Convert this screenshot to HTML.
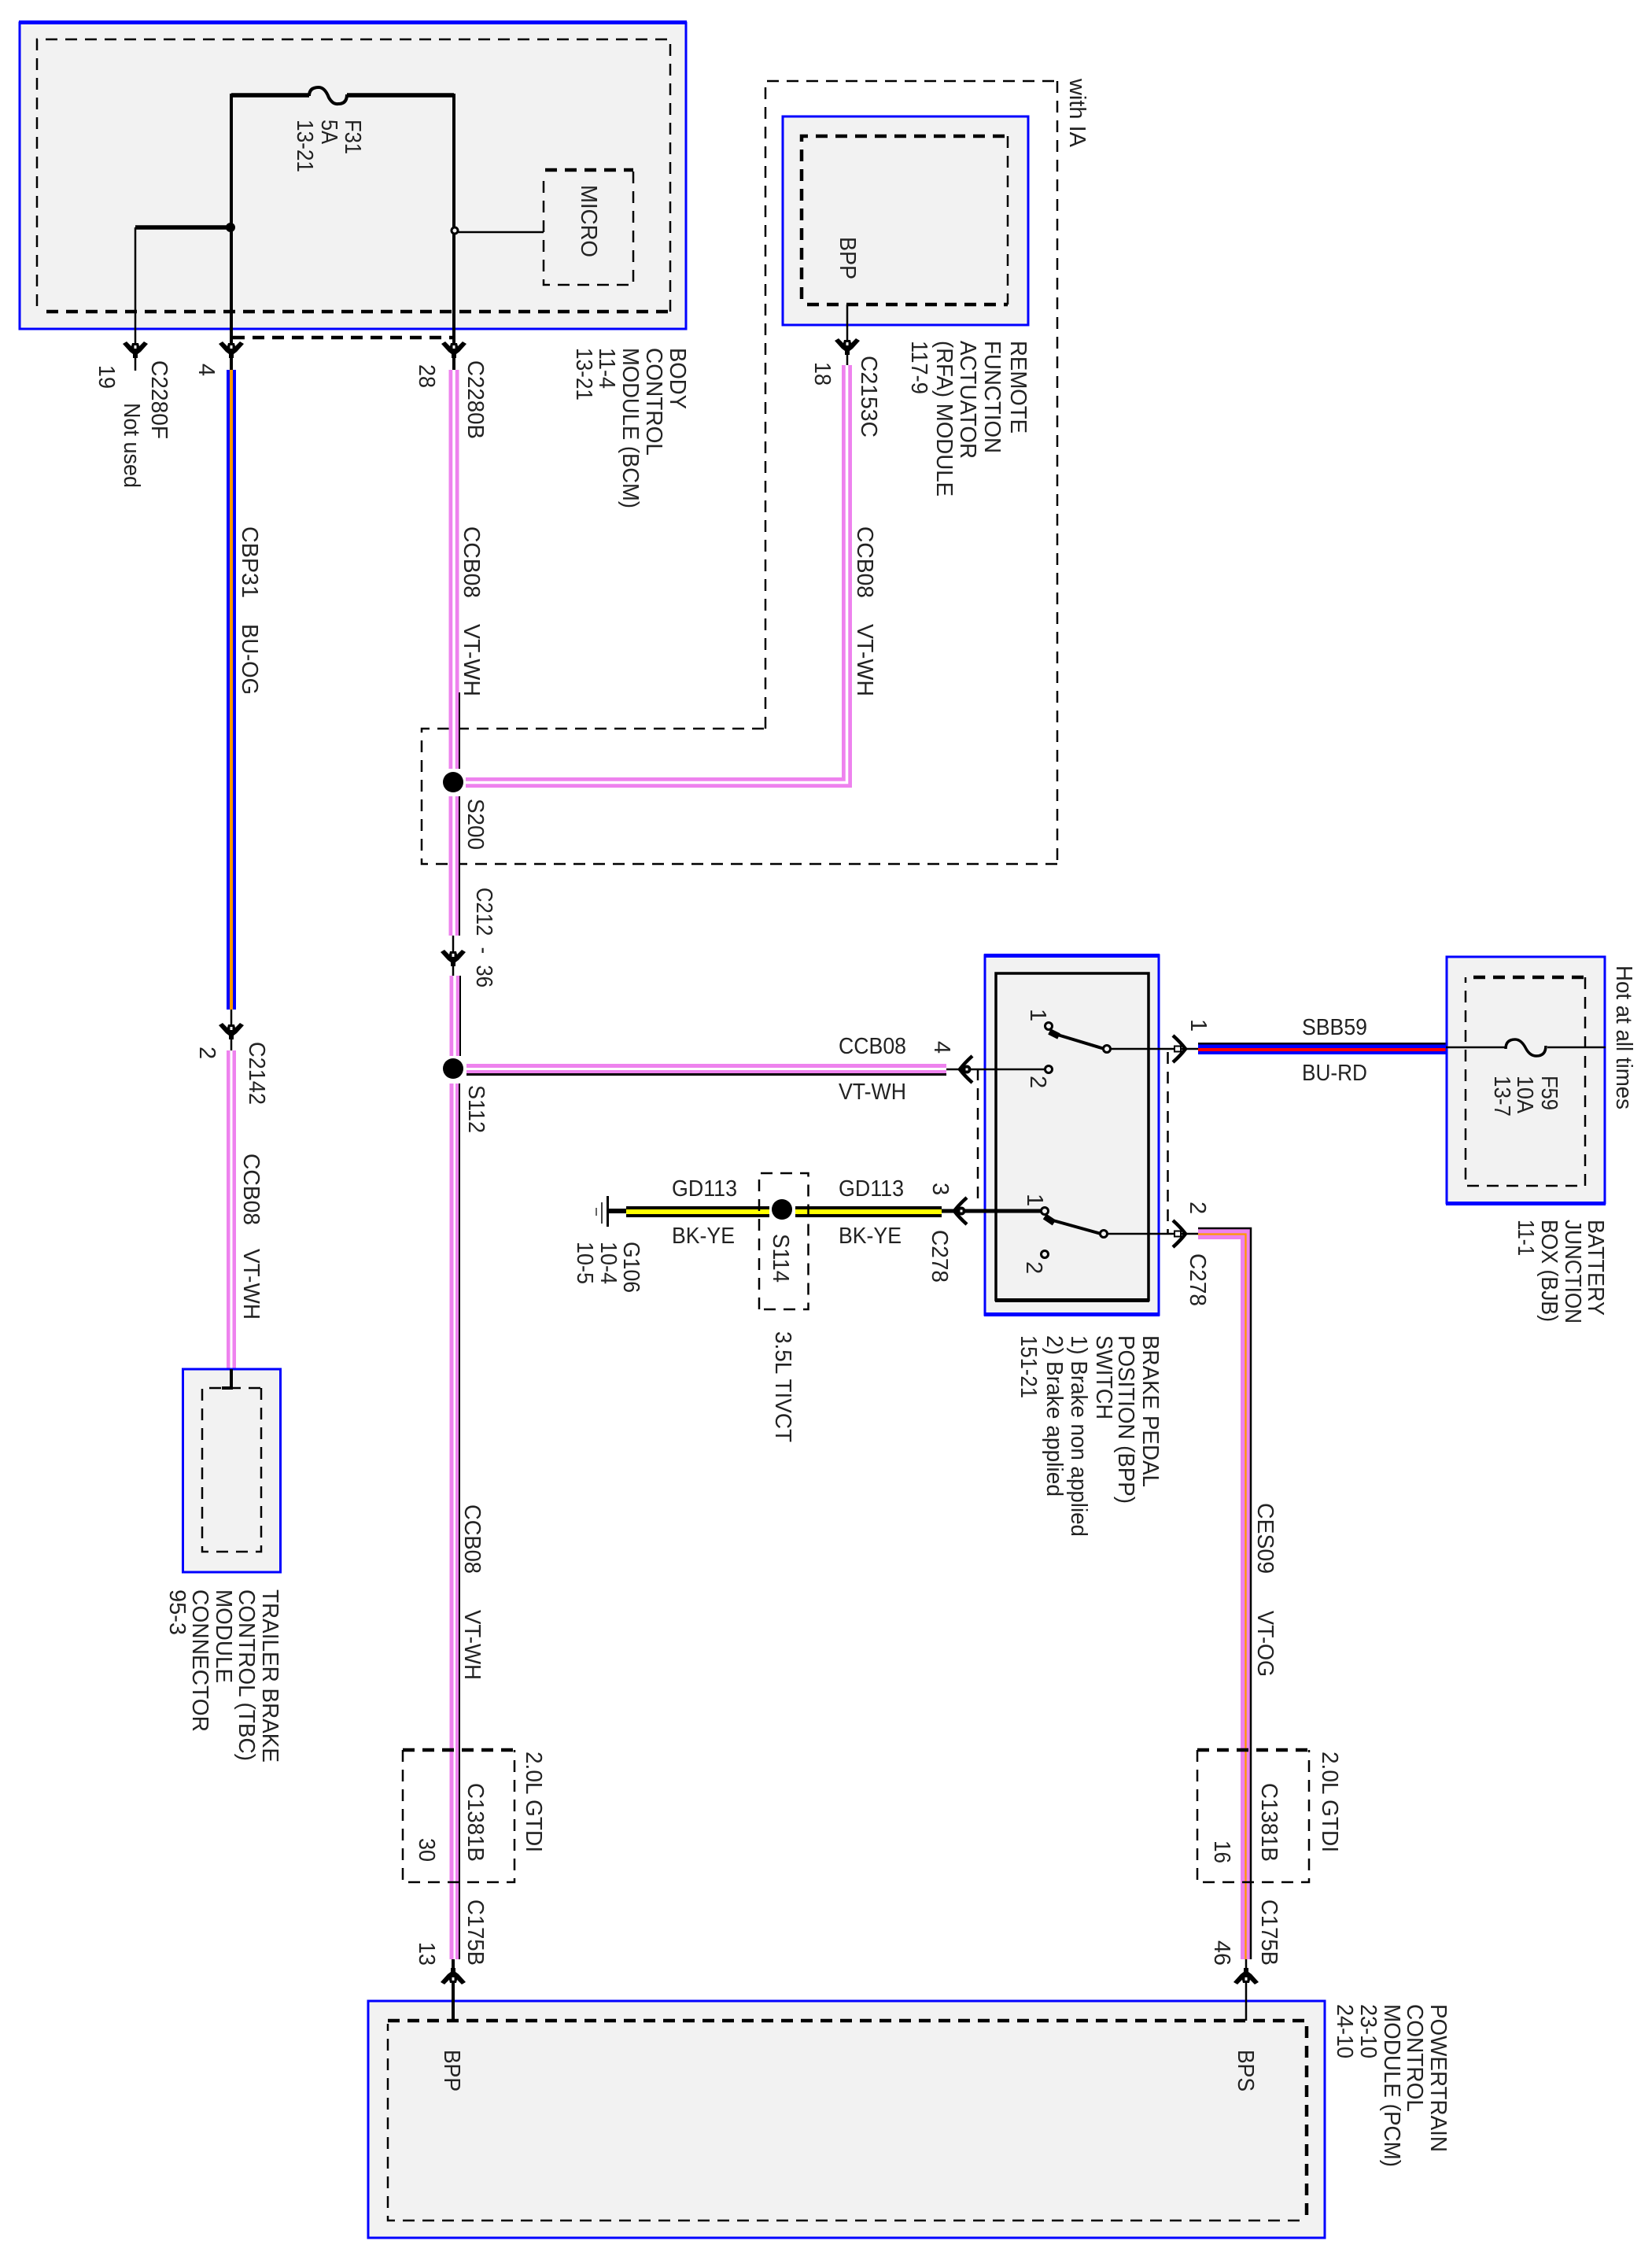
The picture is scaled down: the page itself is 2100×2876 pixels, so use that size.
<!DOCTYPE html>
<html><head><meta charset="utf-8"><style>
html,body{margin:0;padding:0;background:#fff}
svg{display:block}
text{font-family:"Liberation Sans",sans-serif;font-size:29px;fill:#222}
.b{fill:#f2f2f2;stroke:#0000ff;stroke-width:3}
.d{fill:none;stroke:#000;stroke-width:2.5;stroke-dasharray:15 10}
.t{fill:none;stroke:#000;stroke-width:4.5;stroke-dasharray:15 10}
.l{fill:none;stroke:#000;stroke-width:2.5}
.k{fill:none;stroke:#000;stroke-width:4}
.o{fill:#f2f2f2;stroke:#000;stroke-width:3}
.p{fill:none;stroke:#ee82ee;stroke-width:13}
.w{fill:none;stroke:#fff;stroke-width:3.5}
</style></head><body>
<svg xmlns="http://www.w3.org/2000/svg" width="2100" height="2876" viewBox="0 0 2100 2876">
<defs>
<g id="c"><path d="M-16-6L-11-9L-5-3L-4-7H4L5-3L11-9L16-6L7 4L3 7V12H-3V7L-7 4Z" fill="#000"/><rect x="-1.5" y="-4" width="3" height="4" fill="#fff"/></g>
<g id="s"><path d="M-17-7Q-8 3 0 9Q8 3 17-7" fill="none" stroke="#000" stroke-width="4.5"/><rect x="-3.5" y="-5" width="7" height="8" fill="#fff" stroke="#000" stroke-width="2"/></g>
<g id="f"><path d="M-17-7Q-8 3 0 9Q8 3 17-7" fill="none" stroke="#000" stroke-width="4.5"/><circle cx="0" cy="0" r="5.5" fill="#000"/><rect x="-1.5" y="-1.5" width="3" height="3" fill="#fff"/></g>
</defs>

<!-- BCM -->
<rect class="b" x="25" y="29" width="847" height="389"/>
<rect x="24" y="26" width="849" height="5" fill="#00f"/>
<path class="d" d="M852 396V50H47V396"/>
<path class="t" d="M59 396H852"/>
<path class="k" d="M393 121H294V470M441 121H577V470"/>
<path d="M294 121H393M441 121H577" stroke="#000" stroke-width="5.5" fill="none"/>
<path d="M393 122Q393 111 405 111Q413 111 418 124Q423 133 430 132Q441 132 441 120" fill="none" stroke="#000" stroke-width="4"/>
<path d="M294 289H172" stroke="#000" stroke-width="5.5"/>
<path class="l" d="M172 289V471" stroke-width="3"/>
<ellipse cx="293" cy="289" rx="6" ry="6" fill="#000"/>
<circle class="o" cx="578" cy="293" r="4"/>
<path class="l" d="M582 295H691"/>
<path class="d" d="M805 218V362H691V220" stroke-width="2"/>
<path class="t" d="M693 216H805" stroke-dasharray="13 9"/>
<path class="t" d="M296 429H577"/>
<use href="#c" x="172" y="443"/><use href="#c" x="294" y="443"/><use href="#c" x="577" y="443"/>

<text lengthAdjust="spacingAndGlyphs" transform="translate(439 152) rotate(90)" textLength="44">F31</text>
<text lengthAdjust="spacingAndGlyphs" transform="translate(409 152) rotate(90)" textLength="31">5A</text>
<text lengthAdjust="spacingAndGlyphs" transform="translate(378 152) rotate(90)" textLength="67">13-21</text>
<text lengthAdjust="spacingAndGlyphs" transform="translate(739 235) rotate(90)" textLength="92">MICRO</text>
<text lengthAdjust="spacingAndGlyphs" transform="translate(193 458) rotate(90)" textLength="100">C2280F</text>
<text lengthAdjust="spacingAndGlyphs" transform="translate(158 512) rotate(90)" textLength="108">Not used</text>
<text lengthAdjust="spacingAndGlyphs" transform="translate(126 464) rotate(90)" textLength="30">19</text>
<text transform="translate(253 462) rotate(90)">4</text>
<text lengthAdjust="spacingAndGlyphs" transform="translate(533 463) rotate(90)" textLength="30">28</text>
<text lengthAdjust="spacingAndGlyphs" transform="translate(595 458) rotate(90)" textLength="100">C2280B</text>
<text lengthAdjust="spacingAndGlyphs" transform="translate(852 442) rotate(90)" textLength="78">BODY</text>
<text lengthAdjust="spacingAndGlyphs" transform="translate(822 442) rotate(90)" textLength="137">CONTROL</text>
<text lengthAdjust="spacingAndGlyphs" transform="translate(792 442) rotate(90)" textLength="204">MODULE (BCM)</text>
<text lengthAdjust="spacingAndGlyphs" transform="translate(762 442) rotate(90)" textLength="52">11-4</text>
<text lengthAdjust="spacingAndGlyphs" transform="translate(733 442) rotate(90)" textLength="67">13-21</text>

<!-- IA dashed -->
<path class="d" d="M973 926V103H1344" />
<path class="d" stroke-width="3" d="M1344 103V1098"/>
<path class="d" d="M1344 1098H536V926H973"/>
<text lengthAdjust="spacingAndGlyphs" transform="translate(1360 100) rotate(90)" textLength="87">with IA</text>

<!-- RFA -->
<rect class="b" x="995" y="148" width="312" height="265" stroke-width="2.5"/>
<path class="d" d="M1281 173V387"/>
<path class="t" d="M1019 380V173H1281"/>
<path class="t" d="M1026 387H1281"/>
<text lengthAdjust="spacingAndGlyphs" transform="translate(1068 301) rotate(90)" textLength="54">BPP</text>
<path class="l" d="M1077 387V464"/>
<use href="#c" x="1077" y="439"/>
<text lengthAdjust="spacingAndGlyphs" transform="translate(1036 460) rotate(90)" textLength="30">18</text>
<text lengthAdjust="spacingAndGlyphs" transform="translate(1095 452) rotate(90)" textLength="104">C2153C</text>
<text lengthAdjust="spacingAndGlyphs" transform="translate(1285 433) rotate(90)" textLength="118">REMOTE</text>
<text lengthAdjust="spacingAndGlyphs" transform="translate(1252 433) rotate(90)" textLength="143">FUNCTION</text>
<text lengthAdjust="spacingAndGlyphs" transform="translate(1221 433) rotate(90)" textLength="150">ACTUATOR</text>
<text lengthAdjust="spacingAndGlyphs" transform="translate(1191 433) rotate(90)" textLength="198">(RFA) MODULE</text>
<text lengthAdjust="spacingAndGlyphs" transform="translate(1159 433) rotate(90)" textLength="68">117-9</text>

<!-- blue wire left -->
<rect x="288" y="470" width="12" height="813" fill="#00f"/>
<rect x="292" y="470" width="4" height="813" fill="#f90"/>
<path class="l" d="M294 1283V1335" stroke-width="3"/>
<use href="#c" x="294" y="1309"/>
<text lengthAdjust="spacingAndGlyphs" transform="translate(308 669) rotate(90)" textLength="91">CBP31</text>
<text lengthAdjust="spacingAndGlyphs" transform="translate(308 793) rotate(90)" textLength="90">BU-OG</text>

<!-- main wire -->
<path class="p" d="M577 470V977M577 1012V1189M578 1240V1342"/>
<path class="w" d="M577 470V977M577 1012V1189M578 1240V1342"/>
<rect x="583" y="880" width="2" height="97" fill="#000"/><rect x="583" y="1012" width="2" height="177" fill="#000"/><rect x="584" y="1240" width="2" height="102" fill="#000"/>
<path class="l" d="M576 1189V1240"/>
<use href="#c" x="576" y="1216"/>
<text lengthAdjust="spacingAndGlyphs" transform="translate(590 669) rotate(90)" textLength="91">CCB08</text>
<text lengthAdjust="spacingAndGlyphs" transform="translate(590 793) rotate(90)" textLength="92">VT-WH</text>
<text lengthAdjust="spacingAndGlyphs" transform="translate(595 1015) rotate(90)" textLength="65">S200</text>
<text lengthAdjust="spacingAndGlyphs" transform="translate(606 1128) rotate(90)" textLength="127" xml:space="preserve">C212  -  36</text>

<!-- S200 branch -->
<path class="p" d="M1076.5 464V994.5H592"/>
<path class="w" d="M1076.5 464V994.5H592"/>
<text lengthAdjust="spacingAndGlyphs" transform="translate(1090 669) rotate(90)" textLength="91">CCB08</text>
<text lengthAdjust="spacingAndGlyphs" transform="translate(1090 793) rotate(90)" textLength="92">VT-WH</text>
<ellipse cx="576" cy="994" rx="13" ry="13" fill="#000"/>

<!-- S112 -->
<rect x="593" y="1352" width="610" height="12" fill="#ee82ee"/>
<rect x="593" y="1357" width="610" height="3" fill="#fff"/>
<rect x="593" y="1364" width="610" height="3" fill="#000"/>
<ellipse cx="576" cy="1358" rx="13" ry="13" fill="#000"/>
<rect x="571.5" y="1377" width="11.5" height="1113" fill="#ee82ee"/>
<rect x="576.5" y="1377" width="2.5" height="1113" fill="#fff"/>
<rect x="583" y="1377" width="2" height="1113" fill="#000"/>
<text lengthAdjust="spacingAndGlyphs" transform="translate(596 1379) rotate(90)" textLength="61">S112</text>
<text lengthAdjust="spacingAndGlyphs" transform="translate(1066 1339)" textLength="86">CCB08</text>
<text lengthAdjust="spacingAndGlyphs" transform="translate(1066 1397)" textLength="86">VT-WH</text>
<text transform="translate(1188 1323) rotate(90)">4</text>
<text lengthAdjust="spacingAndGlyphs" transform="translate(591 1912) rotate(90)" textLength="88">CCB08</text>
<text lengthAdjust="spacingAndGlyphs" transform="translate(591 2046) rotate(90)" textLength="89">VT-WH</text>

<!-- C2142 / TBC -->
<rect x="288" y="1335" width="12" height="404" fill="#ee82ee"/>
<rect x="292.5" y="1335" width="3" height="404" fill="#fff"/>
<text lengthAdjust="spacingAndGlyphs" transform="translate(317 1324) rotate(90)" textLength="80">C2142</text>
<text transform="translate(254 1330) rotate(90)">2</text>
<text lengthAdjust="spacingAndGlyphs" transform="translate(310 1466) rotate(90)" textLength="91">CCB08</text>
<text lengthAdjust="spacingAndGlyphs" transform="translate(310 1587) rotate(90)" textLength="90">VT-WH</text>
<rect class="b" x="232.5" y="1740" width="124" height="258"/>
<path class="d" d="M332 1764V1972H257V1764H332" stroke-width="2"/>
<path class="k" d="M294 1740V1764H282"/>
<text lengthAdjust="spacingAndGlyphs" transform="translate(334 2020) rotate(90)" textLength="220">TRAILER BRAKE</text>
<text lengthAdjust="spacingAndGlyphs" transform="translate(304 2020) rotate(90)" textLength="218">CONTROL (TBC)</text>
<text lengthAdjust="spacingAndGlyphs" transform="translate(275 2020) rotate(90)" textLength="119">MODULE</text>
<text lengthAdjust="spacingAndGlyphs" transform="translate(245 2020) rotate(90)" textLength="181">CONNECTOR</text>
<text lengthAdjust="spacingAndGlyphs" transform="translate(216 2020) rotate(90)" textLength="58">95-3</text>

<!-- GTDI left -->
<path class="d" d="M512 2224V2392H654V2224" stroke-width="3"/>
<path class="t" d="M512 2224H654"/>
<text lengthAdjust="spacingAndGlyphs" transform="translate(669 2226) rotate(90)" textLength="128">2.0L GTDI</text>
<text lengthAdjust="spacingAndGlyphs" transform="translate(595 2266) rotate(90)" textLength="100">C1381B</text>
<text lengthAdjust="spacingAndGlyphs" transform="translate(533 2336) rotate(90)" textLength="30">30</text>
<text lengthAdjust="spacingAndGlyphs" transform="translate(595 2414) rotate(90)" textLength="84">C175B</text>
<text lengthAdjust="spacingAndGlyphs" transform="translate(533 2468) rotate(90)" textLength="30">13</text>

<!-- PCM -->
<rect class="b" x="468" y="2543" width="1216" height="301" stroke-width="2.5"/>
<path class="t" d="M493 2568H1661V2815"/>
<path class="d" d="M1652 2822H493V2572"/>
<path class="k" d="M576 2490V2568" stroke-width="3.5"/>
<path class="l" d="M1584 2490V2568"/>
<g transform="translate(576 2513) rotate(180)"><use href="#c"/></g>
<g transform="translate(1584 2513) rotate(180)"><use href="#c"/></g>
<text lengthAdjust="spacingAndGlyphs" transform="translate(565 2605) rotate(90)" textLength="53">BPP</text>
<text lengthAdjust="spacingAndGlyphs" transform="translate(1574 2605) rotate(90)" textLength="53">BPS</text>
<text lengthAdjust="spacingAndGlyphs" transform="translate(1819 2547) rotate(90)" textLength="188">POWERTRAIN</text>
<text lengthAdjust="spacingAndGlyphs" transform="translate(1789 2547) rotate(90)" textLength="137">CONTROL</text>
<text lengthAdjust="spacingAndGlyphs" transform="translate(1760 2547) rotate(90)" textLength="207">MODULE (PCM)</text>
<text lengthAdjust="spacingAndGlyphs" transform="translate(1730 2547) rotate(90)" textLength="69">23-10</text>
<text lengthAdjust="spacingAndGlyphs" transform="translate(1700 2547) rotate(90)" textLength="69">24-10</text>

<!-- CES09 -->
<path class="p" d="M1523 1568.5H1583.5V2490"/>
<path d="M1523 1568.5H1583.5V2490" fill="none" stroke="#f90" stroke-width="2.3"/>
<path d="M1523 1561H1590V2490" fill="none" stroke="#000" stroke-width="2.5"/>
<text lengthAdjust="spacingAndGlyphs" transform="translate(1599 1910) rotate(90)" textLength="90">CES09</text>
<text lengthAdjust="spacingAndGlyphs" transform="translate(1599 2047) rotate(90)" textLength="84">VT-OG</text>
<path class="d" d="M1522 2224V2392H1664V2224" stroke-width="3"/>
<path class="t" d="M1522 2224H1664"/>
<text lengthAdjust="spacingAndGlyphs" transform="translate(1681 2226) rotate(90)" textLength="128">2.0L GTDI</text>
<text lengthAdjust="spacingAndGlyphs" transform="translate(1604 2266) rotate(90)" textLength="100">C1381B</text>
<text lengthAdjust="spacingAndGlyphs" transform="translate(1544 2339) rotate(90)" textLength="29">16</text>
<text lengthAdjust="spacingAndGlyphs" transform="translate(1604 2414) rotate(90)" textLength="84">C175B</text>
<text lengthAdjust="spacingAndGlyphs" transform="translate(1544 2466) rotate(90)" textLength="32">46</text>

<!-- BPP switch -->
<path class="d" d="M1243 1358V1530" stroke-width="2"/>
<path class="d" d="M1484.5 1337V1568" stroke-width="2"/>
<rect class="b" x="1252" y="1214" width="221" height="457"/>
<rect x="1251" y="1212" width="223" height="5" fill="#00f"/>
<rect x="1251" y="1668" width="223" height="5" fill="#00f"/>
<rect x="1266" y="1237" width="194" height="415" fill="#f2f2f2" stroke="#000" stroke-width="3.5"/>
<rect x="1265" y="1650" width="196" height="5" fill="#000"/>

<path class="l" d="M1407 1333H1523"/>
<path d="M1341 1314L1407 1334" stroke="#000" stroke-width="4"/>
<path d="M1334 1311L1346 1317" stroke="#000" stroke-width="8"/>
<circle class="o" cx="1333" cy="1304" r="4.5"/>
<circle class="o" cx="1407" cy="1333" r="4.5"/>
<path class="l" d="M1333 1359H1203"/>
<circle class="o" cx="1333" cy="1359" r="4.5"/>
<g transform="translate(1498 1333) rotate(-90)"><use href="#s"/></g>
<g transform="translate(1229 1359) rotate(90)"><use href="#f"/></g>
<path d="M1197 1539H1328" stroke="#000" stroke-width="5"/>
<path class="l" d="M1403 1568H1523"/>
<path d="M1335 1550L1403 1569" stroke="#000" stroke-width="4"/>
<path d="M1328 1546L1340 1554" stroke="#000" stroke-width="8"/>
<circle class="o" cx="1328" cy="1539" r="4.5"/>
<circle class="o" cx="1403" cy="1568" r="4.5"/>
<circle class="o" cx="1328" cy="1594" r="4.5"/>
<g transform="translate(1498 1568) rotate(-90)"><use href="#s"/></g>
<g transform="translate(1222 1539) rotate(90)"><use href="#f"/></g>
<text transform="translate(1310 1282) rotate(90)">1</text>
<text transform="translate(1310 1367) rotate(90)">2</text>
<text transform="translate(1306 1517) rotate(90)">1</text>
<text transform="translate(1305 1603) rotate(90)">2</text>
<text transform="translate(1514 1295) rotate(90)">1</text>
<text transform="translate(1513 1527) rotate(90)">2</text>
<text transform="translate(1186 1503) rotate(90)">3</text>
<text lengthAdjust="spacingAndGlyphs" transform="translate(1513 1593) rotate(90)" textLength="67">C278</text>
<text lengthAdjust="spacingAndGlyphs" transform="translate(1185 1563) rotate(90)" textLength="67">C278</text>
<text lengthAdjust="spacingAndGlyphs" transform="translate(1453 1697) rotate(90)" textLength="193">BRAKE PEDAL</text>
<text lengthAdjust="spacingAndGlyphs" transform="translate(1422 1697) rotate(90)" textLength="214">POSITION (BPP)</text>
<text lengthAdjust="spacingAndGlyphs" transform="translate(1394 1697) rotate(90)" textLength="107">SWITCH</text>
<text lengthAdjust="spacingAndGlyphs" transform="translate(1362 1697) rotate(90)" textLength="256">1) Brake non applied</text>
<text lengthAdjust="spacingAndGlyphs" transform="translate(1331 1697) rotate(90)" textLength="205">2) Brake applied</text>
<text lengthAdjust="spacingAndGlyphs" transform="translate(1298 1697) rotate(90)" textLength="80">151-21</text>

<!-- SBB59 / BJB -->
<rect x="1523" y="1327" width="315" height="13" fill="#00f"/>
<rect x="1523" y="1325" width="315" height="2.5" fill="#000"/>
<rect x="1523" y="1332" width="315" height="4" fill="#f00"/>
<text lengthAdjust="spacingAndGlyphs" transform="translate(1655 1315)" textLength="83">SBB59</text>
<text lengthAdjust="spacingAndGlyphs" transform="translate(1655 1373)" textLength="83">BU-RD</text>
<rect class="b" x="1839" y="1216" width="201" height="313"/>
<rect x="1838" y="1527" width="203" height="5" fill="#00f"/>
<path class="d" d="M2015 1242V1507H1863V1242" stroke-width="2"/>
<path class="t" d="M1873 1242H2015"/>
<path class="l" d="M1838 1331H1914M1967 1331H2041"/>
<path d="M1914 1333Q1914 1321 1926 1321Q1934 1321 1940 1333Q1945 1342 1953 1342Q1965 1342 1965 1329" fill="none" stroke="#000" stroke-width="3.5"/>
<text lengthAdjust="spacingAndGlyphs" transform="translate(1960 1367) rotate(90)" textLength="44">F59</text>
<text lengthAdjust="spacingAndGlyphs" transform="translate(1929 1367) rotate(90)" textLength="48">10A</text>
<text lengthAdjust="spacingAndGlyphs" transform="translate(1900 1367) rotate(90)" textLength="52">13-7</text>
<text lengthAdjust="spacingAndGlyphs" transform="translate(2055 1227) rotate(90)" textLength="183">Hot at all times</text>
<text lengthAdjust="spacingAndGlyphs" transform="translate(2019 1550) rotate(90)" textLength="122">BATTERY</text>
<text lengthAdjust="spacingAndGlyphs" transform="translate(1990 1550) rotate(90)" textLength="132">JUNCTION</text>
<text lengthAdjust="spacingAndGlyphs" transform="translate(1960 1550) rotate(90)" textLength="130">BOX (BJB)</text>
<text lengthAdjust="spacingAndGlyphs" transform="translate(1930 1550) rotate(90)" textLength="46">11-1</text>

<!-- GD113 / ground -->
<rect x="796" y="1533" width="182" height="14" fill="#000"/>
<rect x="796" y="1537" width="182" height="6" fill="#ff0"/>
<rect x="1011" y="1533" width="186" height="14" fill="#000"/>
<rect x="1011" y="1537" width="186" height="6" fill="#ff0"/>
<path d="M1197 1539H1215" stroke="#000" stroke-width="5"/>
<path d="M772 1539H796" stroke="#000" stroke-width="6"/>
<path d="M772.5 1520V1559" stroke="#000" stroke-width="3"/>
<path d="M765 1528V1555" stroke="#000" stroke-width="1.5"/>
<path d="M758 1535V1545" stroke="#000" stroke-width="1.2"/>
<ellipse cx="994" cy="1537" rx="13" ry="13" fill="#000"/>
<path class="d" d="M965 1664V1491H1027.5V1664H965" stroke-dasharray="12 8" stroke-width="3"/>
<text lengthAdjust="spacingAndGlyphs" transform="translate(854 1520)" textLength="83">GD113</text>
<text lengthAdjust="spacingAndGlyphs" transform="translate(1066 1520)" textLength="83">GD113</text>
<text lengthAdjust="spacingAndGlyphs" transform="translate(854 1580)" textLength="80">BK-YE</text>
<text lengthAdjust="spacingAndGlyphs" transform="translate(1066 1580)" textLength="80">BK-YE</text>
<text lengthAdjust="spacingAndGlyphs" transform="translate(983 1568) rotate(90)" textLength="62">S114</text>
<text lengthAdjust="spacingAndGlyphs" transform="translate(986 1692) rotate(90)" textLength="141">3.5L TIVCT</text>
<text lengthAdjust="spacingAndGlyphs" transform="translate(793 1578) rotate(90)" textLength="65">G106</text>
<text lengthAdjust="spacingAndGlyphs" transform="translate(764 1578) rotate(90)" textLength="54">10-4</text>
<text lengthAdjust="spacingAndGlyphs" transform="translate(734 1578) rotate(90)" textLength="54">10-5</text>
</svg>
</body></html>
